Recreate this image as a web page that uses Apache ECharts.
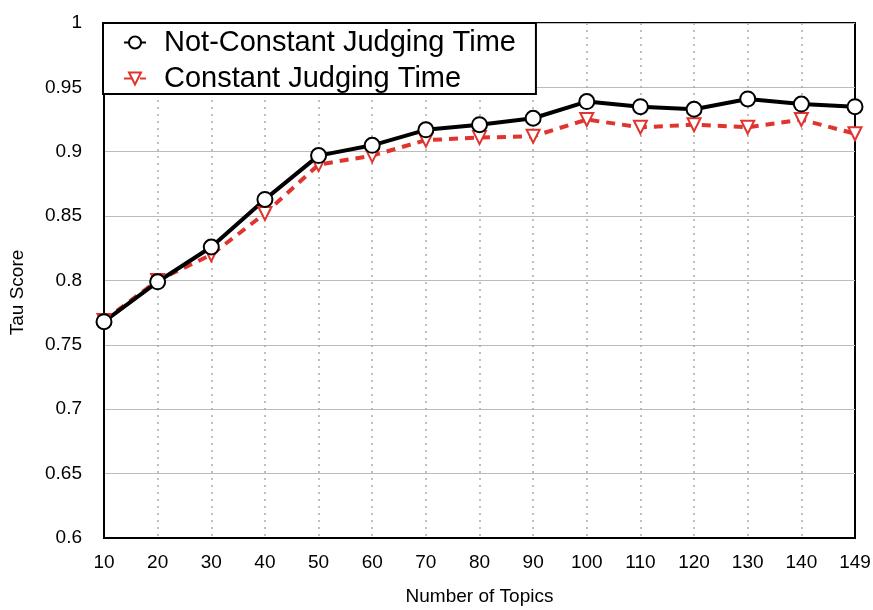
<!DOCTYPE html>
<html>
<head>
<meta charset="utf-8">
<script src="https://cdn.jsdelivr.net/npm/echarts@6/dist/echarts.min.js"></script>
<style>
  html, body { margin: 0; padding: 0; background: #fff; }
  #chart { width: 873px; height: 610px; }
</style>
</head>
<body>
<div id="chart"></div>
<script>
const topics = ['10', '20', '30', '40', '50', '60', '70', '80', '90', '100', '110', '120', '130', '140', '149'];
const notConstant = [0.768, 0.799, 0.826, 0.863, 0.897, 0.905, 0.917, 0.921, 0.926, 0.939, 0.935, 0.933, 0.941, 0.937, 0.935];
const constant = [0.769, 0.800, 0.820, 0.852, 0.890, 0.897, 0.909, 0.911, 0.912, 0.925, 0.919, 0.921, 0.919, 0.925, 0.914];

const font = 'Liberation Sans, Arial, Helvetica, sans-serif';

const chart = echarts.init(document.getElementById('chart'));
chart.setOption({
  animation: false,
  textStyle: { fontFamily: font },
  grid: {
    left: 104, right: 18, top: 23, bottom: 72,
    outerBoundsMode: 'none',
    containLabel: false,
    show: true, borderColor: '#000', borderWidth: 2
  },
  legend: {
    orient: 'vertical',
    left: 103, top: 23,
    padding: [5, 20, 1, 20],
    itemGap: 7,
    itemWidth: 22, itemHeight: 15,
    backgroundColor: '#fff',
    borderColor: '#000',
    borderWidth: 2,
    borderRadius: 0,
    textStyle: { fontSize: 29, color: '#000', fontFamily: font, padding: [0, 0, 0, 13] },
    data: ['Not-Constant Judging Time', 'Constant Judging Time']
  },
  xAxis: {
    type: 'category',
    data: topics,
    boundaryGap: false,
    name: 'Number of Topics',
    nameLocation: 'middle',
    nameGap: 49,
    nameTextStyle: { fontSize: 19, color: '#000', fontFamily: font },
    axisLine: { lineStyle: { color: '#000', width: 2 } },
    axisTick: { show: false },
    axisLabel: { fontSize: 19, color: '#000', margin: 15 },
    splitLine: {
      show: true,
      interval: function (idx) { return idx > 0 && idx < topics.length - 1; },
      lineStyle: { color: '#aaa', type: [2, 5], width: 1.5 }
    }
  },
  yAxis: {
    type: 'value',
    min: 0.6, max: 1, interval: 0.05,
    name: 'Tau Score',
    nameLocation: 'middle',
    nameGap: 77,
    nameTextStyle: { fontSize: 19, color: '#000', fontFamily: font, padding: [0, 24, 0, 0] },
    axisLine: { show: true, lineStyle: { color: '#000', width: 2 } },
    axisTick: { show: false },
    axisLabel: { fontSize: 19, color: '#000', margin: 22 },
    splitLine: { show: true, lineStyle: { color: '#bbb', width: 1.2 } }
  },
  series: [
    {
      name: 'Constant Judging Time',
      type: 'line',
      data: constant,
      symbol: 'triangle',
      symbolRotate: 180,
      symbolSize: 13,
      showAllSymbol: true,
      itemStyle: { color: '#fff', borderColor: '#e0342e', borderWidth: 2 },
      lineStyle: { color: '#e0342e', width: 4, type: [9, 7] }
    },
    {
      name: 'Not-Constant Judging Time',
      type: 'line',
      data: notConstant,
      symbol: 'circle',
      symbolSize: 15,
      showAllSymbol: true,
      itemStyle: { color: '#fff', borderColor: '#000', borderWidth: 2 },
      lineStyle: { color: '#000', width: 4 }
    }
  ]
});
</script>
</body>
</html>
